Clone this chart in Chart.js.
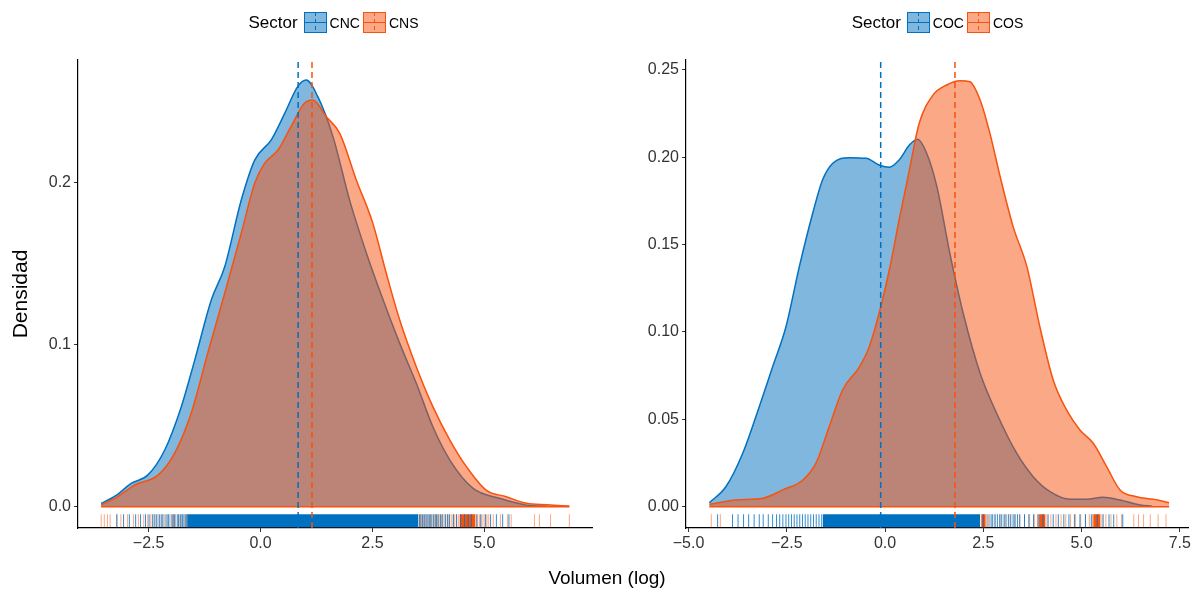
<!DOCTYPE html>
<html>
<head>
<meta charset="utf-8">
<script src="https://cdn.jsdelivr.net/npm/chart.js@4.4.1/dist/chart.umd.min.js"></script>
<style>
  body { margin: 0; background: #fff; font-family: "Liberation Sans", Arial, sans-serif; }
  #wrap { position: relative; width: 1196px; height: 592px; overflow: hidden; }
  .panel { position: absolute; top: 0; }
  .legend { position: absolute; top: 12px; height: 21px; width: 400px;
            display: flex; align-items: center; justify-content: center; color: #000; }
  .legend .lt { font-size: 17px; margin-right: 6px; }
  .legend .lab { font-size: 14px; margin: 0 3px; }
  #xtitle { position: absolute; left: 0; width: 1214px; top: 567px; text-align: center; font-size: 19px; color: #000; }
</style>
</head>
<body>
<div id="wrap">
  <canvas id="left" class="panel" style="left:0" width="600" height="592"></canvas>
  <canvas id="right" class="panel" style="left:600px" width="596" height="592"></canvas>
  <div class="legend" style="left:135px" id="legLeft"></div>
  <div class="legend" style="left:739px" id="legRight"></div>
  <div id="xtitle">Volumen (log)</div>
</div>
<script>
// ---- left panel: CNC vs CNS ----
const cncX = [-3.56, -3.2, -2.89, -2.52, -2.14, -1.77, -1.47, -1.10, -0.80, -0.43, -0.13, 0.24, 0.54, 0.83, 1.02, 1.28, 1.62, 1.99, 2.37, 2.74, 3.11, 3.48, 3.85, 4.23, 4.75, 5.34, 5.94, 6.4];
const cncY = [0.002, 0.0075, 0.0144, 0.0195, 0.035, 0.0617, 0.0904, 0.1274, 0.148, 0.1891, 0.2137, 0.2262, 0.2425, 0.259, 0.263, 0.2528, 0.228, 0.189, 0.156, 0.1274, 0.1007, 0.0761, 0.0493, 0.0288, 0.0113, 0.0052, 0.001, 0.0003];
const cnsX = [-3.56, -3.19, -2.81, -2.29, -1.92, -1.55, -1.18, -0.80, -0.43, -0.13, 0.09, 0.39, 0.68, 0.98, 1.17, 1.47, 1.77, 2.14, 2.51, 2.81, 3.11, 3.48, 3.85, 4.23, 4.60, 5.04, 5.49, 5.94, 6.4, 6.9];
const cnsY = [0.001, 0.0062, 0.0134, 0.0195, 0.0329, 0.0576, 0.0946, 0.1316, 0.1686, 0.1994, 0.2117, 0.2199, 0.2343, 0.2487, 0.2508, 0.2404, 0.2302, 0.2014, 0.1747, 0.1439, 0.1151, 0.0863, 0.0617, 0.0411, 0.0247, 0.0103, 0.0062, 0.0021, 0.0012, 0.0004];
const cncMean = 0.84;
const cnsMean = 1.15;
const cncRug = [-3.21, -3.06, -2.93, -2.79, -2.68, -2.57, -2.49, -2.41, -2.36, -2.32, -2.26, -2.22, -2.18, -2.11, -2.07, -2.05, -1.98, -1.95, -1.92, -1.86, -1.83, -1.79, -1.75, -1.73, -1.68, -1.65, -1.63,
  3.55, 3.58, 3.62, 3.66, 3.7, 3.74, 3.78, 3.81, 3.86, 3.9, 3.93, 3.97, 4.02, 4.06, 4.13, 4.18, 4.22, 4.31, 4.38, 4.47, 4.56, 4.64, 4.71, 4.83, 4.92, 5.03, 5.14, 5.27, 5.41, 5.55];
const cncBands = [[-1.62, 3.52]];
const cnsRug = [-3.56, -3.49, -3.42, -3.36, -3.21, -3.12, -2.97, -2.84, -2.73, -2.61, -2.52, -2.45, -2.38, -2.29, -2.2, -2.14, -2.02, -1.96, -1.9, -1.82, -1.76, -1.7, -1.64,
  3.52, 3.56, 3.6, 3.64, 3.68, 3.72, 3.76, 3.8, 3.83, 3.87, 3.91, 3.95, 3.99, 4.04, 4.08, 4.12, 4.17, 4.21, 4.26, 4.3, 4.34, 4.38, 4.42,
  4.85, 4.89, 4.93, 4.97, 5.01, 5.06, 5.1, 5.2, 5.36, 5.52, 5.6, 6.12, 6.23, 6.48, 6.9];
const cnsBands = [[4.45, 4.8]];
const leftXTicks = [-2.5, 0, 2.5, 5];
const leftYTicks = [0, 0.1, 0.2];

// ---- right panel: COC vs COS ----
const cocX = [-4.47, -4.05, -3.62, -3.20, -2.86, -2.52, -2.18, -1.84, -1.59, -1.33, -0.91, -0.48, -0.15, 0.11, 0.36, 0.62, 0.83, 1.06, 1.32, 1.65, 1.99, 2.42, 2.84, 3.35, 3.77, 4.20, 4.71, 5.13, 5.55, 5.98, 6.49, 6.8];
const cocY = [0.0023, 0.0114, 0.0306, 0.0572, 0.0801, 0.103, 0.1374, 0.168, 0.187, 0.1966, 0.1998, 0.1994, 0.1956, 0.1943, 0.1985, 0.207, 0.2103, 0.2023, 0.1832, 0.145, 0.1107, 0.0764, 0.0535, 0.0306, 0.0172, 0.0086, 0.0042, 0.0042, 0.0054, 0.0038, 0.001, 0.0003];
const cosX = [-4.47, -3.79, -3.11, -2.60, -2.09, -1.76, -1.42, -1.08, -0.65, -0.40, -0.15, 0.11, 0.36, 0.62, 0.87, 1.22, 1.57, 1.91, 2.16, 2.42, 2.67, 2.93, 3.26, 3.61, 3.94, 4.28, 4.62, 4.96, 5.30, 5.64, 5.98, 6.40, 6.83, 7.23];
const cosY = [0.0014, 0.0038, 0.0048, 0.0096, 0.0153, 0.0248, 0.0458, 0.0668, 0.0801, 0.0916, 0.1107, 0.1355, 0.1641, 0.1927, 0.2195, 0.2356, 0.2414, 0.2438, 0.2433, 0.2328, 0.2137, 0.1889, 0.1603, 0.1374, 0.103, 0.0725, 0.0554, 0.0439, 0.0363, 0.0229, 0.0096, 0.0057, 0.0042, 0.0023];
const cocMean = -0.11;
const cosMean = 1.78;
const cocRug = [-4.26, -3.88, -3.74, -3.6, -3.47, -3.33, -3.2, -3.1, -2.97, -2.86, -2.76, -2.68, -2.6, -2.52, -2.45, -2.38, -2.31, -2.24, -2.17, -2.1, -2.03, -1.96, -1.89, -1.82, -1.75, -1.68, -1.61,
  2.5, 2.62, 2.7, 2.74, 2.8, 2.86, 2.92, 2.97, 3.03, 3.08, 3.14, 3.2, 3.26, 3.31, 3.37, 3.43, 3.55, 3.66, 3.78, 3.9, 4.02, 4.15, 4.28, 4.41, 4.55, 4.68, 4.82, 4.96, 5.1, 5.25, 5.4, 5.55, 5.7, 5.82, 6.05];
const cocBands = [[-1.58, 2.42]];
const cosRug = [-4.42, -4.19, 2.5, 2.58, 2.66, 2.8, 2.93, 3.05, 3.18, 3.3, 3.42, 3.55, 3.68, 3.8, 3.88, 4.12, 4.22, 4.35, 4.48, 4.6, 4.72, 4.85, 4.98, 5.1, 5.2, 5.28,
  5.52, 5.62, 5.75, 5.9, 6.02, 6.33, 6.45, 6.58, 6.75, 6.95, 7.15];
const cosBands = [[2.45, 2.56], [3.92, 4.08], [5.3, 5.48]];
const rightXTicks = [-5, -2.5, 0, 2.5, 5, 7.5];
const rightYTicks = [0, 0.05, 0.1, 0.15, 0.2, 0.25];

const BLUE = "rgb(0,112,192)";
const BLUE_FILL = "rgba(0,112,192,0.5)";
const BLUE_RUG = "rgba(0,112,192,0.8)";
const ORANGE = "rgb(247,82,14)";
const ORANGE_FILL = "rgba(247,82,14,0.5)";
const ORANGE_RUG = "rgba(247,82,14,0.5)";

Chart.defaults.font.family = "'Liberation Sans', Arial, sans-serif";

const pts = (xs, ys) => xs.map((x, i) => ({ x: x, y: ys[i] }));
const fmt = (v, d) => v.toFixed(d).replace("-", "\u2212");

function densitySet(xs, ys, line, fill, order) {
  return {
    data: pts(xs, ys), showLine: true, fill: "origin",
    borderColor: line, backgroundColor: fill, borderWidth: 1.5,
    pointRadius: 0, cubicInterpolationMode: "monotone", order: order
  };
}

function rugSet(xs, y, color, order) {
  return {
    data: xs.map(x => ({ x: x, y: y })), showLine: false,
    pointStyle: "line", rotation: 90, pointRadius: 6.5,
    pointBorderColor: color, pointBorderWidth: 1, order: order
  };
}

function bandSets(bands, y, color, order) {
  return bands.map(b => ({
    data: [{ x: b[0], y: y }, { x: b[1], y: y }], showLine: true, fill: false,
    borderColor: color, borderWidth: 13, borderCapStyle: "butt", pointRadius: 0, order: order
  }));
}

function meanSet(m, yMin, yMax, color) {
  return {
    data: [{ x: m, y: yMin }, { x: m, y: yMax }], showLine: true, fill: false,
    borderColor: color, borderWidth: 1.5, borderDash: [6, 4], pointRadius: 0, order: 0
  };
}

function makePanel(id, p) {
  const rugY = p.yMin * 0.66;
  const xsAll = p.aX.concat(p.bX);
  const datasets = [
    densitySet(p.aX, p.aY, BLUE, BLUE_FILL, 7),
    densitySet(p.bX, p.bY, ORANGE, ORANGE_FILL, 6),
    { data: [{ x: Math.min(...xsAll), y: 0 }, { x: Math.max(...xsAll), y: 0 }], showLine: true, fill: false,
      borderColor: ORANGE, borderWidth: 1.5, pointRadius: 0, order: 5 },
    rugSet(p.bRug, rugY, ORANGE_RUG, 4),
    ...bandSets(p.bBands, rugY, ORANGE, 4),
    ...bandSets(p.aBands, rugY, BLUE, 3),
    rugSet(p.aRug, rugY, BLUE_RUG, 2),
    meanSet(p.aMean, p.yMin, p.yMax, BLUE),
    meanSet(p.bMean, p.yMin, p.yMax, ORANGE)
  ];

  return new Chart(document.getElementById(id), {
    type: "scatter",
    data: { datasets: datasets },
    options: {
      responsive: false,
      animation: false,
      events: [],
      layout: { padding: { left: 0, right: p.padRight, top: 60, bottom: 0 } },
      plugins: { legend: { display: false }, tooltip: { enabled: false } },
      scales: {
        x: {
          type: "linear", min: p.xMin, max: p.xMax,
          afterBuildTicks: s => { s.ticks = p.xTicks.map(v => ({ value: v })); },
          afterFit: s => { s.height = 64; },
          grid: { drawOnChartArea: false, drawTicks: true, tickLength: 4, color: "#333" },
          border: { display: true, color: "#000", width: 1.2 },
          ticks: { font: { size: 16 }, color: "#333", padding: 2, maxRotation: 0, autoSkip: false,
                   callback: v => fmt(v, 1) }
        },
        y: {
          type: "linear", min: p.yMin, max: p.yMax,
          afterBuildTicks: s => { s.ticks = p.yTicks.map(v => ({ value: v })); },
          afterFit: s => { s.width = p.axisWidth; },
          grid: { drawOnChartArea: false, drawTicks: true, tickLength: 4, color: "#333" },
          border: { display: true, color: "#000", width: 1.2 },
          ticks: { font: { size: 16 }, color: "#333", padding: 3, autoSkip: false,
                   callback: v => fmt(v, p.yDigits) },
          title: { display: p.yTitle !== "", text: p.yTitle, color: "#000", font: { size: 21 },
                   padding: { top: 9, bottom: 0 } }
        }
      }
    }
  });
}

makePanel("left", {
  aX: cncX, aY: cncY, bX: cnsX, bY: cnsY, aMean: cncMean, bMean: cnsMean,
  aRug: cncRug, aBands: cncBands, bRug: cnsRug, bBands: cnsBands,
  xMin: -4.078, xMax: 7.417, yMin: -0.0131, yMax: 0.2754,
  xTicks: leftXTicks, yTicks: leftYTicks, yDigits: 1,
  yTitle: "Densidad", axisWidth: 78, padRight: 7
});

makePanel("right", {
  aX: cocX, aY: cocY, bX: cosX, bY: cosY, aMean: cocMean, bMean: cosMean,
  aRug: cocRug, aBands: cocBands, bRug: cosRug, bBands: cosBands,
  xMin: -5.064, xMax: 7.71, yMin: -0.0122, yMax: 0.2557,
  xTicks: rightXTicks, yTicks: rightYTicks, yDigits: 2,
  yTitle: "", axisWidth: 86, padRight: 8
});

// legends (HTML, same look as the ggplot keys)
function key(line, fill) {
  return '<svg width="23" height="21" style="display:block">' +
    '<rect x="0.5" y="0.5" width="22" height="20" fill="' + fill + '" stroke="' + line + '" stroke-width="1"/>' +
    '<line x1="0" y1="10.5" x2="23" y2="10.5" stroke="' + line + '" stroke-width="1"/>' +
    '<line x1="11.5" y1="0" x2="11.5" y2="21" stroke="' + line + '" stroke-width="1" stroke-dasharray="4,3"/></svg>';
}
function legend(id, a, b) {
  document.getElementById(id).innerHTML =
    '<span class="lt">Sector</span>' + key(BLUE, BLUE_FILL) + '<span class="lab">' + a + '</span>' +
    key(ORANGE, ORANGE_FILL) + '<span class="lab">' + b + '</span>';
}
legend("legLeft", "CNC", "CNS");
legend("legRight", "COC", "COS");
</script>
</body>
</html>
